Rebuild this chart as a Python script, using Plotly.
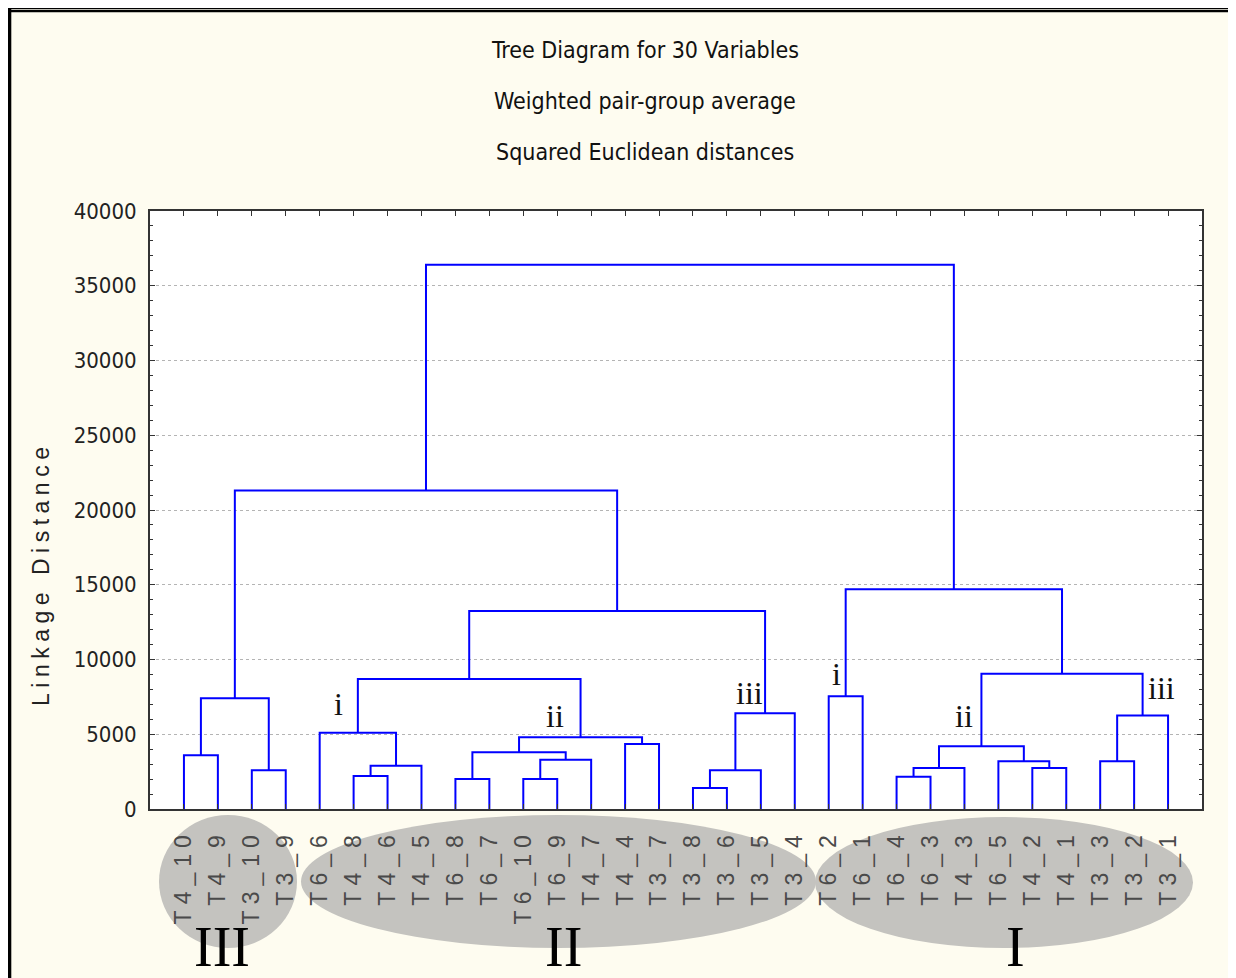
import plotly.graph_objects as go

# ---------------- data ----------------
leaf_labels = ["T4_10", "T4_9", "T3_10", "T3_9", "T6_6", "T4_8", "T4_6", "T4_5",
               "T6_8", "T6_7", "T6_10", "T6_9", "T4_7", "T4_4", "T3_7", "T3_8",
               "T3_6", "T3_5", "T3_4", "T6_2", "T6_1", "T6_4", "T6_3", "T4_3",
               "T6_5", "T4_2", "T4_1", "T3_3", "T3_2", "T3_1"]

# linkage: merge k creates cluster id 30+k from (merge_left[k], merge_right[k])
merge_left = [0, 2, 30, 5, 33, 4, 8, 10, 37, 36, 13, 39, 35, 15, 43, 44, 42, 32,
              19, 21, 49, 25, 24, 50, 27, 54, 53, 48, 47]
merge_right = [1, 3, 31, 6, 7, 34, 9, 11, 12, 38, 14, 40, 41, 16, 17, 18, 45, 46,
               20, 22, 23, 26, 51, 52, 28, 29, 55, 56, 57]
merge_height = [3600, 2600, 7400, 2200, 2900, 5100, 2000, 2000, 3300, 3800, 4350,
                4800, 8700, 1400, 2600, 6400, 13250, 21300, 7550, 2150, 2750, 2750,
                3200, 4200, 3200, 6250, 9050, 14700, 36400]

y_ticks = [0, 5000, 10000, 15000, 20000, 25000, 30000, 35000, 40000]

# sub-cluster labels (text, cluster id they annotate)
sub_labels = ["i", "ii", "iii", "i", "ii", "iii"]
group_labels = ["III", "II", "I"]

# ---------------- tree geometry from linkage ----------------
n = len(leaf_labels)
node_x = {i: float(i + 1) for i in range(n)}
node_y = {i: 0.0 for i in range(n)}
xs, ys = [], []
for k, (a, b, h) in enumerate(zip(merge_left, merge_right, merge_height)):
    xs += [node_x[a], node_x[a], node_x[b], node_x[b], None]
    ys += [node_y[a], h, h, node_y[b], None]
    node_x[n + k] = (node_x[a] + node_x[b]) / 2
    node_y[n + k] = h

fig = go.Figure()
fig.add_trace(go.Scatter(x=xs, y=ys, mode="lines",
                         line=dict(color="#0000FF", width=2),
                         hoverinfo="skip", showlegend=False))

# ---------------- layout helpers ----------------
# the page body keeps an 8px margin: the figure sits at (8, 8) in the window
OFF = 8
W, H = 1236 - OFF, 978 - OFF
L, R, T, B = 150, 1202, 211, 809   # plot area in window pixels


def pxx(px):
    return (px - L) / (R - L)


def pxy(py):
    return (B - py) / (B - T)


narrow = "Liberation Sans Narrow, DejaVu Sans Condensed, Arial Narrow, sans-serif"
sans = "Liberation Sans, Arial, sans-serif"
serif = "Liberation Serif, Times New Roman, serif"

shapes = []
# grey ellipses behind leaf labels
for x0, x1, y0, y1 in [(159, 297, 815, 948), (301, 816, 815, 948), (815, 1193, 817, 948)]:
    shapes.append(dict(type="circle", xref="paper", yref="paper",
                       x0=pxx(x0), x1=pxx(x1), y0=pxy(y1), y1=pxy(y0),
                       fillcolor="#C4C3BF", line=dict(width=0), layer="below"))
# window frame (double line on top, thick bar on the left)
for x0, x1, y0, y1 in [(8, 1236, 8, 9.3), (8, 1236, 10, 12.3), (8, 11.3, 8, 978)]:
    shapes.append(dict(type="rect", xref="paper", yref="paper",
                       x0=pxx(x0), x1=pxx(x1), y0=pxy(y1), y1=pxy(y0),
                       fillcolor="black", line=dict(width=0), layer="above"))

annotations = []
for txt, py in zip(["Tree Diagram for 30 Variables", "Weighted pair-group average",
                    "Squared Euclidean distances"], [50, 101, 152]):
    annotations.append(dict(text=txt, xref="paper", yref="paper", x=pxx(645), y=pxy(py),
                            showarrow=False, xanchor="center", yanchor="middle",
                            font=dict(family=narrow, size=23, color="#111111")))

annotations.append(dict(text='<span style="letter-spacing:5.5px">Linkage Distance</span>',
                        xref="paper", yref="paper", x=pxx(41), y=pxy(574),
                        textangle=-90, showarrow=False, xanchor="center", yanchor="middle",
                        font=dict(family=sans, size=23, color="#222222")))

# sub-cluster labels anchored to their nodes
sub_nodes = [35, 41, 45, 48, 53, 55]
sub_offsets = [(-0.57, 1950), (-0.75, 1450), (-0.45, 1350), (-0.28, 1450), (-0.5, 2050), (0.56, 1850)]
for txt, nid, (dx, dy) in zip(sub_labels, sub_nodes, sub_offsets):
    annotations.append(dict(text=txt, xref="x", yref="y", x=node_x[nid] + dx, y=node_y[nid] + dy,
                            showarrow=False, xanchor="center", yanchor="middle",
                            font=dict(family=serif, size=32, color="#111111")))

for txt, px in zip(group_labels, [222, 563, 1015]):
    annotations.append(dict(text=txt, xref="paper", yref="paper", x=pxx(px), y=pxy(947),
                            showarrow=False, xanchor="center", yanchor="middle",
                            font=dict(family=serif, size=56, color="#000000")))

fig.update_layout(
    width=W, height=H, autosize=False,
    margin=dict(l=L - OFF, r=1236 - R, t=T - OFF, b=978 - B, pad=0),
    paper_bgcolor="#FEFCF0", plot_bgcolor="#FFFFFF",
    shapes=shapes, annotations=annotations, showlegend=False,
)
fig.update_xaxes(
    range=[0, n + 1], tickmode="array", tickvals=list(range(1, n + 1)),
    ticktext=['<span style="letter-spacing:6px">%s</span>' % t for t in leaf_labels],
    tickangle=-90, ticks="inside", ticklen=5, tickcolor="#333333",
    tickfont=dict(family=sans, size=23, color="#4A4A4A"), ticklabelstandoff=9,
    showgrid=False, zeroline=False, showline=True, linecolor="#333333", linewidth=2,
    mirror="allticks",
)
fig.update_yaxes(
    range=[0, 40000], tickmode="array", tickvals=y_ticks, ticktext=[str(v) for v in y_ticks],
    ticks="inside", ticklen=5, tickcolor="#333333",
    minor=dict(dtick=1000, ticks="inside", ticklen=3, tickcolor="#333333", showgrid=False),
    tickfont=dict(family=narrow, size=22, color="#222222"), ticklabelstandoff=7,
    showgrid=True, gridcolor="#B4B4B4", griddash="dot", gridwidth=1,
    zeroline=False, showline=True, linecolor="#333333", linewidth=2, mirror="allticks",
)

fig.write_html("out.html")
